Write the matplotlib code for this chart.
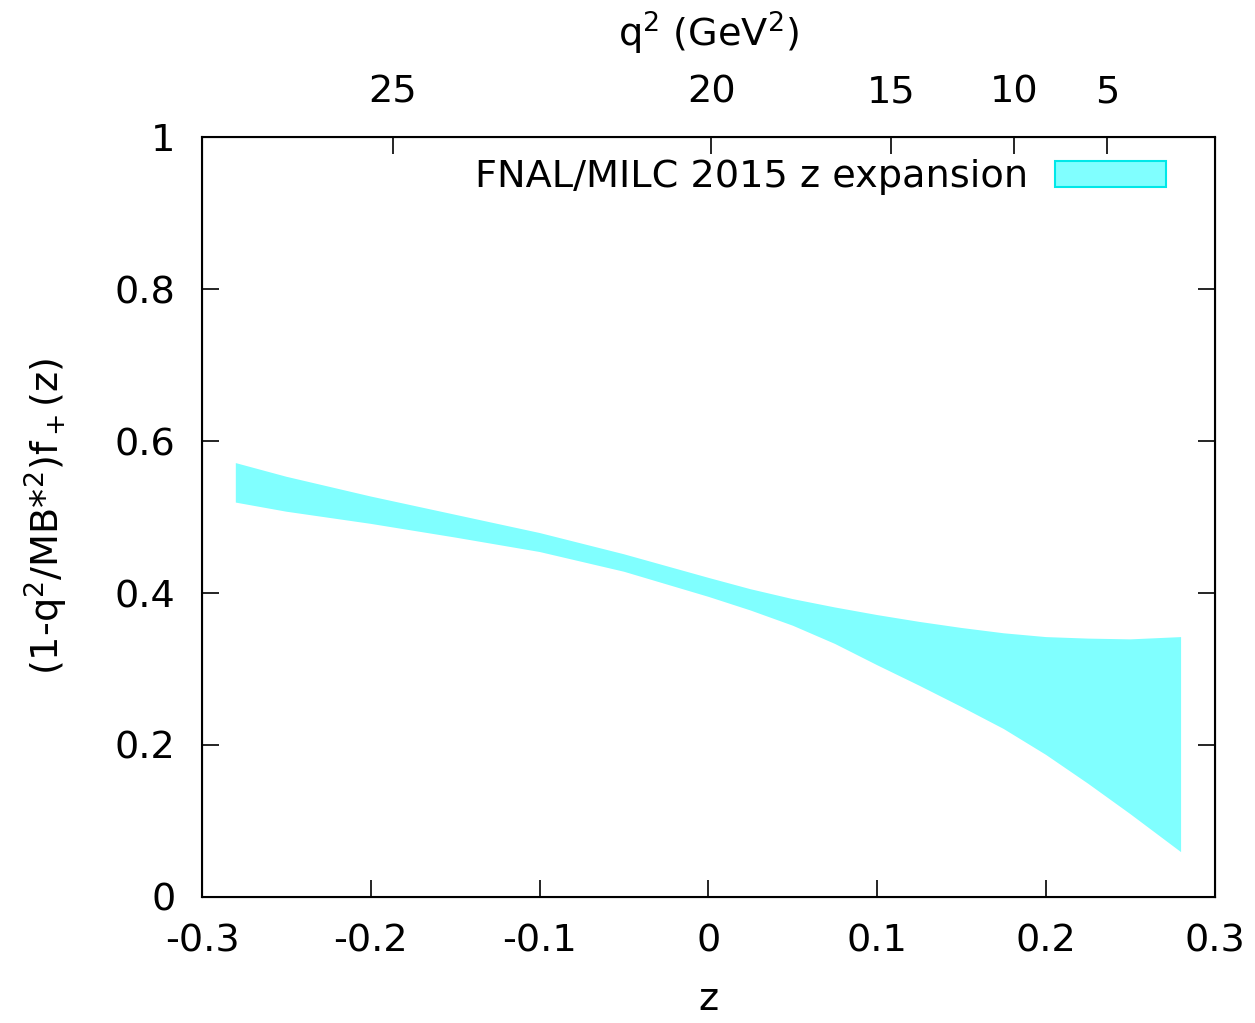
#!/usr/bin/env python3
import numpy as np
import matplotlib
matplotlib.use("Agg")
import matplotlib.pyplot as plt

# band (z, upper and lower edge)
z_vals = [-0.28, -0.25, -0.20, -0.15, -0.10, -0.05, 0.00, 0.025, 0.05, 0.075, 0.10,
          0.125, 0.15, 0.175, 0.20, 0.225, 0.25, 0.28]
upper = [0.571, 0.553, 0.527, 0.503, 0.479, 0.451, 0.420, 0.405, 0.392, 0.381, 0.371,
         0.362, 0.354, 0.347, 0.342, 0.340, 0.339, 0.342]
lower = [0.519, 0.507, 0.491, 0.473, 0.454, 0.428, 0.395, 0.377, 0.357, 0.333, 0.305,
         0.278, 0.250, 0.221, 0.187, 0.149, 0.109, 0.059]

q2_ticks = [25, 20, 15, 10, 5]
z_ticks = [-0.3, -0.2, -0.1, 0, 0.1, 0.2, 0.3]
y_ticks = [0, 0.2, 0.4, 0.6, 0.8, 1]

# B -> pi kinematics for the q^2 axis
M_B, M_PI = 5.27966, 0.13957
T_PLUS = (M_B + M_PI) ** 2
T_MINUS = (M_B - M_PI) ** 2
T_0 = T_PLUS * (1 - np.sqrt(1 - T_MINUS / T_PLUS))


def z_of_q2(q2):
    a = np.sqrt(T_PLUS - np.asarray(q2, dtype=float))
    b = np.sqrt(T_PLUS - T_0)
    return (a - b) / (a + b)


plt.rcParams["font.family"] = ["DejaVu Sans"]
plt.rcParams["mathtext.fontset"] = "dejavusans"
FS = 27.5

fig = plt.figure(figsize=(12.55, 10.23), dpi=100)
ax = fig.add_axes([0.161, 0.1232, 0.807, 0.7428])

ax.fill_between(z_vals, lower, upper, facecolor="#80ffff", edgecolor="none", linewidth=0)
ax.fill_between([], [], [], facecolor="#80ffff", edgecolor="#00e8e8", linewidth=1.5,
                label="FNAL/MILC 2015 z expansion")

ax.set_xlim(-0.3, 0.3)
ax.set_ylim(0, 1)
ax.set_xticks(z_ticks)
ax.set_xticklabels(["-0.3", "-0.2", "-0.1", "0", "0.1", "0.2", "0.3"])
ax.set_yticks(y_ticks)
ax.set_yticklabels(["0", "0.2", "0.4", "0.6", "0.8", "1"])
ax.tick_params(axis="x", direction="in", length=12, width=1.2, labelsize=FS, pad=19, top=False)
ax.tick_params(axis="y", direction="in", length=12, width=1.2, labelsize=FS, pad=19,
               right=True)
for sp in ax.spines.values():
    sp.set_linewidth(1.5)

ax.set_xlabel("z", fontsize=FS, labelpad=16)
ax.set_ylabel("(1-q$^2$/MB*$^2$)f$_+$(z)", fontsize=FS, labelpad=32)

top = ax.twiny()
top.set_xlim(ax.get_xlim())
top.set_xticks(z_of_q2(q2_ticks))
top.set_xticklabels([str(q) for q in q2_ticks])
top.tick_params(axis="x", direction="in", length=12, width=1.2, labelsize=FS, pad=19)
top.set_xlabel("q$^2$ (GeV$^2$)", fontsize=FS, labelpad=20)

ax.legend(loc="center right", bbox_to_anchor=(0.952, 0.947), frameon=False, markerfirst=False,
          fontsize=FS, handlelength=2.9, handleheight=0.65, handletextpad=0.72,
          borderpad=0, borderaxespad=0)

fig.savefig("out.png", dpi=100)
